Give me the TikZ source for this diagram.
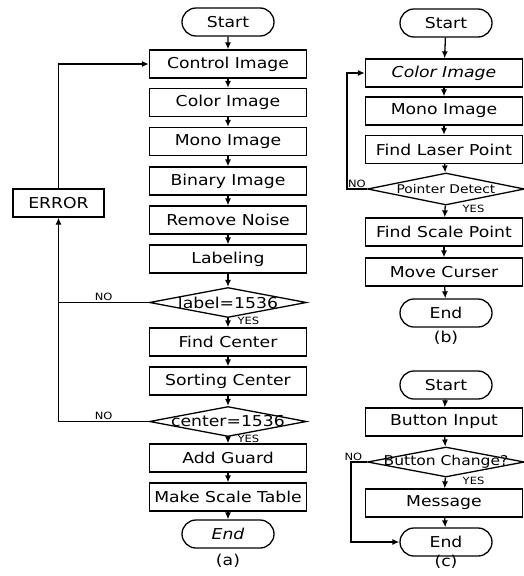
\documentclass[tikz,border=0pt]{standalone}
\usepackage{fontspec}
\setmainfont{DejaVu Sans}[FakeStretch=1.15]
\usetikzlibrary{shapes.geometric,shapes.misc,arrows.meta}

\begin{document}
\begin{tikzpicture}[x=1pt, y=-1pt, line width=1.3pt, >={Latex[length=7pt,width=6pt]},
    font=\fontsize{15}{17}\selectfont,
    proc/.style={draw, minimum width=157pt, minimum height=28pt, inner sep=0pt},
    term/.style={draw, rounded rectangle, minimum width=92pt, minimum height=28pt, inner sep=0pt},
    decide/.style={draw, diamond, minimum width=157pt, minimum height=30pt, inner sep=0pt},
    tag/.style={font=\fontsize{10}{11}\selectfont, inner sep=1pt}]
    \useasboundingbox (0,0) rectangle (524,576);

    % (a) 좌측 흐름도
    \node[term] (sa) at (228, 22) {Start};
    \node[proc] (ctrl) at (228, 64) {Control Image};
    \node[proc] (color) at (228, 102.5) {Color Image};
    \node[proc] (mono) at (228, 141.5) {Mono Image};
    \node[proc] (binary) at (228, 181) {Binary Image};
    \node[proc] (noise) at (228, 220) {Remove Noise};
    \node[proc] (labeling) at (228, 259) {Labeling};
    \node[decide, label={center:label=1536}] (dlabel) at (228, 302.5) {};
    \node[proc] (findc) at (228, 342) {Find Center};
    \node[proc] (sortc) at (228, 381) {Sorting Center};
    \node[decide, label={center:center=1536}] (dcenter) at (228, 421.5) {};
    \node[proc] (guard) at (228, 458) {Add Guard};
    \node[proc] (table) at (228, 497) {Make Scale Table};
    \node[term] (ea) at (228, 534) {\itshape End};
    \node (capa) at (228, 561) {(a)};
    \node[draw, minimum width=91pt, minimum height=28pt, inner sep=0pt] (error) at (58.5, 203) {ERROR};

    % (a) 화살표
    \draw[->] (sa) -- (ctrl);
    \draw[->] (ctrl) -- (color);
    \draw[->] (color) -- (mono);
    \draw[->] (mono) -- (binary);
    \draw[->] (binary) -- (noise);
    \draw[->] (noise) -- (labeling);
    \draw[->] (labeling) -- (dlabel);
    \draw[->] (dlabel) -- (findc) node[tag, pos=0.3, right=8pt] {YES};
    \draw[->] (findc) -- (sortc);
    \draw[->] (sortc) -- (dcenter);
    \draw[->] (dcenter) -- (guard) node[tag, pos=0.3, right=8pt] {YES};
    \draw[->] (guard) -- (table);
    \draw[->] (table) -- (ea);

    % (a) 오류 경로
    \draw (dlabel.west) -- (dlabel.west -| error.south) node[tag, midway, above] {NO};
    \draw[->] (dcenter.west) -| (error.south) node[tag, pos=0.25, above] {NO};
    \draw[->] (error.north) |- (ctrl.west);

    % (b) 레이저 포인터
    \node[term] (sb) at (446, 23) {Start};
    \node[proc] (colorb) at (444, 73) {\itshape Color Image};
    \node[proc] (monob) at (444, 111) {Mono Image};
    \node[proc] (laser) at (444, 149.5) {Find Laser Point};
    \node[decide, minimum height=32pt, label={center:{\fontsize{12}{14}\selectfont Pointer Detect}}] (dpoint) at (446, 189) {};
    \node[proc] (scalep) at (444, 232) {Find Scale Point};
    \node[proc] (move) at (444, 272) {Move Curser};
    \node[term] (eb) at (446, 313) {End};
    \node (capb) at (446, 338) {(b)};
    \coordinate (nb) at (347, 189);

    \draw[->] (sb) -- (colorb);
    \draw[->] (colorb) -- (monob);
    \draw[->] (monob) -- (laser);
    \draw[->] (laser) -- (dpoint);
    \draw[->] (dpoint) -- (scalep) node[tag, pos=0.3, right=16pt] {YES};
    \draw[->] (scalep) -- (move);
    \draw[->] (move) -- (eb);
    \draw[->] (dpoint.west) -- (nb) node[tag, pos=0.5, above] {NO} |- (colorb.west);

    % (c) 버튼 입력
    \node[term] (sc) at (446, 385) {Start};
    \node[proc] (button) at (444, 422) {Button Input};
    \node[decide, label={center:{\fontsize{13.5}{15}\selectfont Button Change?}}] (dchange) at (446, 462) {};
    \node[proc] (message) at (444, 503) {Message};
    \node[term] (ec) at (446, 542) {End};
    \node (capc) at (446, 562) {(c)};
    \coordinate (nc) at (351, 462);

    \draw[->] (sc) -- (button);
    \draw[->] (button) -- (dchange);
    \draw[->] (dchange) -- (message) node[tag, pos=0.3, right=16pt] {YES};
    \draw[->] (message) -- (ec);
    \draw[->] (dchange.west) -- (nc) node[tag, pos=0.85, above] {NO} |- (ec.west);
\end{tikzpicture}
\end{document}
